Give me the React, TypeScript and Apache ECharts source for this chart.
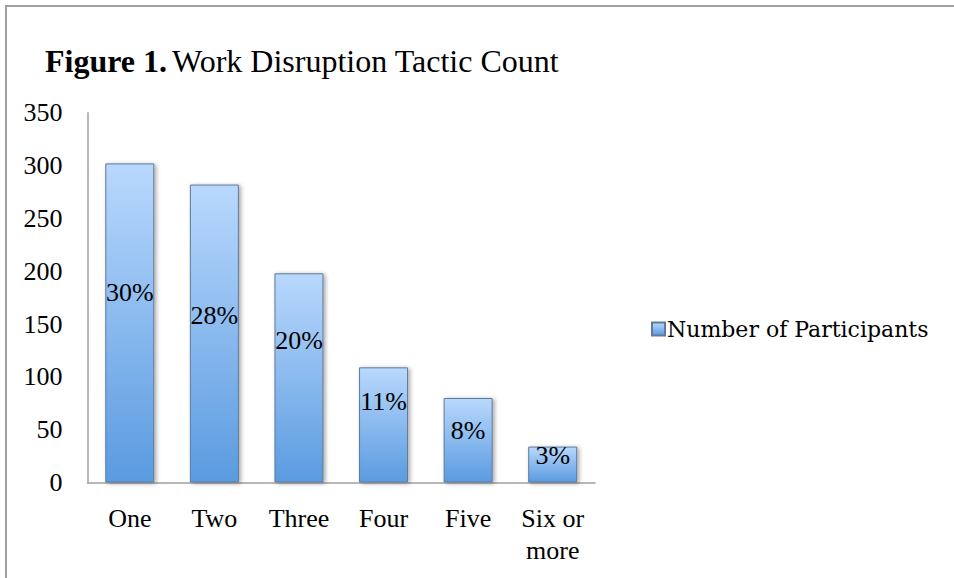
import React, { useEffect, useRef } from "react";
import * as echarts from "echarts";

const categories = ["One", "Two", "Three", "Four", "Five", "Six or\nmore"];
const participants = [302, 282, 198, 109, 80, 34];
const percentLabels = ["30%", "28%", "20%", "11%", "8%", "3%"];
const yTicks = { min: 0, max: 350, interval: 50 };
const seriesName = "Number of Participants";

// layout: distance (px) from each bar top to its label centre (hand-placed in the original)
const labelOffsets = [129, 131, 67, 34, 33, 9];

const SERIF = "'Liberation Serif', 'Times New Roman', serif";

export default function App() {
  const ref = useRef<HTMLDivElement>(null);
  useEffect(() => {
    if (!ref.current) return;
    const chart = echarts.init(ref.current, null, { renderer: "svg" });
    const barFill = new echarts.graphic.LinearGradient(0, 0, 0, 1, [
      { offset: 0, color: "#b9d8fd" },
      { offset: 1, color: "#5a9be0" },
    ]);
    chart.setOption({
      animation: false,
      backgroundColor: "#ffffff",
      title: {
        left: 40,
        top: 40,
        text: "{b|Figure 1.} {n|Work Disruption Tactic Count}",
        textStyle: {
          rich: {
            b: { fontFamily: SERIF, fontWeight: "bold", fontSize: 32, color: "#000" },
            n: { fontFamily: SERIF, fontWeight: "normal", fontSize: 32, color: "#000" },
          },
        },
      },
      legend: {
        left: 651,
        top: 318,
        padding: 0,
        itemWidth: 13,
        itemHeight: 13,
        itemGap: 0,
        icon: "rect",
        data: [seriesName],
        textStyle: { fontFamily: "'DejaVu Serif', serif", fontSize: 22, color: "#000", padding: [0, 0, 0, -3] },
      },
      grid: { left: 87.5, right: 954 - 595, top: 112.7, bottom: 578 - 482.5, containLabel: false },
      xAxis: {
        type: "category",
        data: categories,
        axisLine: { show: true, lineStyle: { color: "#a0a0a0", width: 1.5 } },
        axisTick: { show: false },
        axisLabel: {
          fontFamily: SERIF,
          fontSize: 26,
          lineHeight: 32,
          color: "#000",
          margin: 20,
          interval: 0,
        },
      },
      yAxis: {
        type: "value",
        min: yTicks.min,
        max: yTicks.max,
        interval: yTicks.interval,
        axisLine: { show: true, lineStyle: { color: "#a0a0a0", width: 1.5 } },
        axisTick: { show: false },
        splitLine: { show: false },
        axisLabel: { fontFamily: SERIF, fontSize: 26, color: "#000", margin: 25 },
      },
      series: [
        {
          name: seriesName,
          type: "bar",
          barWidth: 49,
          data: participants.map((v, i) => ({
            value: v,
            label: { position: ["50%", labelOffsets[i]] },
          })),
          itemStyle: {
            color: barFill,
            borderColor: "#5f7a9a",
            borderWidth: 1,
            shadowColor: "rgba(0,0,0,0.35)",
            shadowBlur: 4,
            shadowOffsetX: 2,
            shadowOffsetY: 1,
          },
          label: {
            show: true,
            align: "center",
            verticalAlign: "middle",
            fontFamily: SERIF,
            fontSize: 26,
            color: "#000",
            formatter: (p: any) => percentLabels[p.dataIndex],
          },
        },
      ],
      graphic: [
        {
          type: "rect",
          silent: true,
          shape: { x: 6, y: 6, width: 1000, height: 1000 },
          style: { fill: "none", stroke: "#a0a0a0", lineWidth: 2 },
        },
      ],
    });
    return () => chart.dispose();
  }, []);
  return (
    <div
      ref={ref}
      style={{ position: "absolute", left: 0, top: 0, width: 954, height: 578 }}
    />
  );
}
